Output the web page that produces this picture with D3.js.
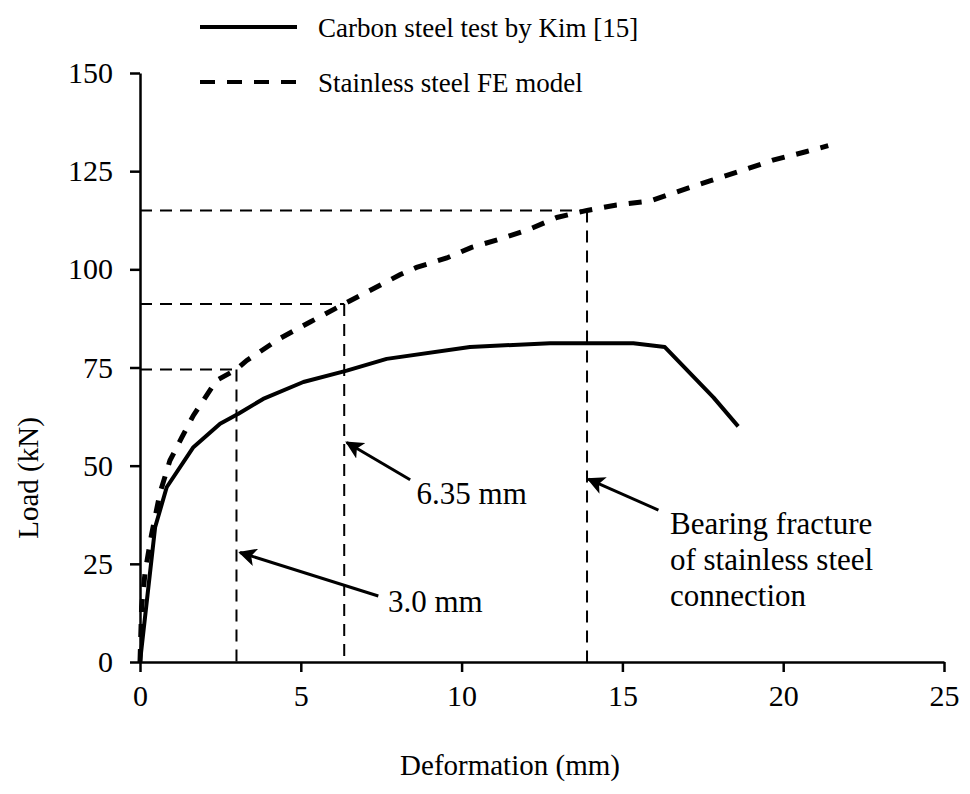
<!DOCTYPE html>
<html>
<head>
<meta charset="utf-8">
<script src="https://cdn.jsdelivr.net/npm/d3@7"></script>
<style>
  html, body { margin: 0; padding: 0; background: #fff; }
  svg { display: block; }
  text { font-family: "Liberation Serif", "Times New Roman", serif; fill: #000; }
</style>
</head>
<body>
<svg id="chart" width="970" height="794"></svg>
<script>
// Load–deformation data (deformation in mm, load in kN)
const carbonDeformation = [0, 0.47, 0.83, 1.66, 2.49, 3.06, 3.83, 5.08, 6.43, 7.67, 10.26, 12.75, 15.34, 16.32, 17.83, 18.6];
const carbonLoad        = [0, 34.3, 44.5, 54.7, 60.7, 63.2, 67.0, 71.3, 74.2, 77.2, 80.2, 81.2, 81.2, 80.2, 67.4, 60.0];

const stainlessDeformation = [0, 0.05, 0.16, 0.36, 0.62, 0.93, 1.30, 1.66, 2.38, 3.0, 3.32, 4.35, 5.29, 6.35, 8.08, 8.6, 9.54, 10.31, 11.19, 12.07, 12.96, 13.9, 14.82, 15.86, 16.79, 17.72, 18.66, 19.68, 20.73, 21.4];
const stainlessLoad        = [0, 14.0, 23.0, 32.5, 43.0, 51.3, 57.2, 62.8, 71.7, 74.5, 76.8, 82.4, 86.6, 91.2, 98.6, 100.5, 102.9, 105.6, 107.7, 110.1, 113.2, 115.0, 116.4, 117.4, 120.0, 122.5, 125.0, 127.8, 130.0, 131.5];

// Guide lines marking deformation limits on the FE curve
const guideDeformation = [3.0, 6.35, 13.9];
const guideLoad        = [74.5, 91.2, 115.0];

const xTicks = [0, 5, 10, 15, 20, 25];
const yTicks = [0, 25, 50, 75, 100, 125, 150];

const seriesNames = ["Carbon steel test by Kim [15]", "Stainless steel FE model"];

// Annotation labels: arrow tip, arrow tail and text anchor (data units)
const noteLines = [["6.35 mm"], ["3.0 mm"], ["Bearing fracture", "of stainless steel", "connection"]];
const noteTip   = [[6.43, 55.9], [3.11, 27.9], [13.94, 46.6]];
const noteTail  = [[8.4, 46.4], [7.41, 16.8], [16.12, 38.7]];
const noteText  = [[8.6, 40.3], [7.71, 12.8], [16.48, 32.7]];

const svg = d3.select("#chart");

const x = d3.scaleLinear().domain([0, 25]).range([140, 944]);
const y = d3.scaleLinear().domain([0, 150]).range([662, 73]);

// Axes
const xAxis = svg.append("g")
  .attr("transform", `translate(0,${y(0)})`)
  .call(d3.axisBottom(x).tickValues(xTicks).tickSize(10).tickSizeOuter(0).tickPadding(14));
const yAxis = svg.append("g")
  .attr("transform", `translate(${x(0)},0)`)
  .call(d3.axisLeft(y).tickValues(yTicks).tickSize(10).tickSizeOuter(0).tickPadding(17));

[xAxis, yAxis].forEach(g => {
  g.select(".domain").attr("stroke", "#000").attr("stroke-width", 2.5);
  g.selectAll(".tick line").attr("stroke", "#000").attr("stroke-width", 2.5);
  g.selectAll(".tick text")
    .style("font-family", '"Liberation Serif", "Times New Roman", serif')
    .style("font-size", "30px")
    .attr("fill", "#000");
});
xAxis.selectAll(".tick text").attr("dy", "0.66em");

// Axis titles
svg.append("text")
  .attr("x", 510).attr("y", 775)
  .attr("text-anchor", "middle")
  .style("font-size", "29px")
  .text("Deformation (mm)");
svg.append("text")
  .attr("transform", `translate(38,478) rotate(-90)`)
  .attr("text-anchor", "middle")
  .style("font-size", "29px")
  .text("Load (kN)");

// Guide lines (horizontal to the y axis, vertical down to the x axis)
const guides = svg.append("g")
  .attr("fill", "none")
  .attr("stroke", "#000")
  .attr("stroke-width", 2)
  .attr("stroke-dasharray", "12,8");
guideDeformation.forEach((d, i) => {
  guides.append("line")
    .attr("x1", x(0)).attr("x2", x(d))
    .attr("y1", y(guideLoad[i])).attr("y2", y(guideLoad[i]));
  guides.append("line")
    .attr("x1", x(d)).attr("x2", x(d))
    .attr("y1", y(guideLoad[i])).attr("y2", y(0));
});

// Curves
const line = d3.line().x(d => x(d[0])).y(d => y(d[1]));
const carbonPts = carbonDeformation.map((d, i) => [d, carbonLoad[i]]);
const stainlessPts = stainlessDeformation.map((d, i) => [d, stainlessLoad[i]]);

svg.append("path")
  .datum(carbonPts)
  .attr("d", line)
  .attr("fill", "none")
  .attr("stroke", "#000")
  .attr("stroke-width", 4)
  .attr("stroke-linejoin", "round");

svg.append("path")
  .datum(stainlessPts)
  .attr("d", line)
  .attr("fill", "none")
  .attr("stroke", "#000")
  .attr("stroke-width", 5)
  .attr("stroke-dasharray", "13,12");

// Legend
const legendY = [27, 82];
const legend = svg.append("g");
legend.append("line")
  .attr("x1", 200).attr("x2", 297).attr("y1", legendY[0]).attr("y2", legendY[0])
  .attr("stroke", "#000").attr("stroke-width", 4);
legend.append("line")
  .attr("x1", 200).attr("x2", 297).attr("y1", legendY[1]).attr("y2", legendY[1])
  .attr("stroke", "#000").attr("stroke-width", 4).attr("stroke-dasharray", "15,12");
seriesNames.forEach((name, i) => {
  legend.append("text")
    .attr("x", 318).attr("y", legendY[i] + 10)
    .style("font-size", "27px")
    .text(name);
});

// Arrow annotations
const defs = svg.append("defs");
defs.append("marker")
  .attr("id", "arrowhead")
  .attr("viewBox", "0 0 10 10")
  .attr("refX", 9).attr("refY", 5)
  .attr("markerWidth", 6).attr("markerHeight", 6)
  .attr("markerUnits", "strokeWidth")
  .attr("orient", "auto")
  .append("path")
  .attr("d", "M0,0 L10,5 L0,10 L2.5,5 Z")
  .attr("fill", "#000");

noteLines.forEach((lines, i) => {
  svg.append("line")
    .attr("x1", x(noteTail[i][0])).attr("y1", y(noteTail[i][1]))
    .attr("x2", x(noteTip[i][0])).attr("y2", y(noteTip[i][1]))
    .attr("stroke", "#000").attr("stroke-width", 3)
    .attr("marker-end", "url(#arrowhead)");
  const t = svg.append("text")
    .attr("x", x(noteText[i][0])).attr("y", y(noteText[i][1]))
    .style("font-size", "31px");
  lines.forEach((s, j) => {
    t.append("tspan")
      .attr("x", x(noteText[i][0]))
      .attr("dy", j === 0 ? 0 : 36)
      .text(s);
  });
});
</script>
</body>
</html>
